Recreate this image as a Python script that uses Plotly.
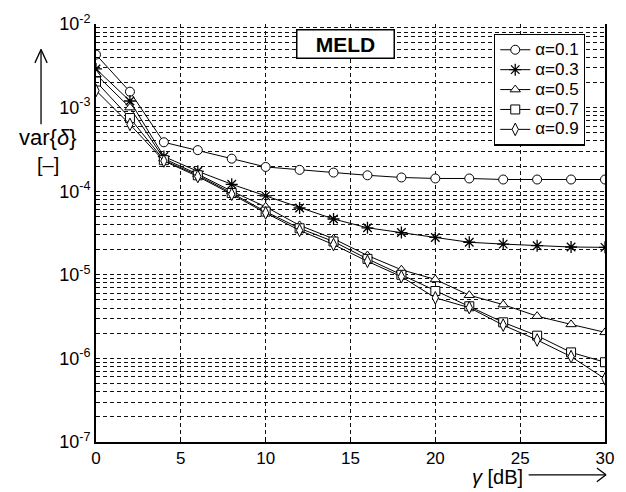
import plotly.graph_objects as go

# SNR axis (dB) and variance of the estimator for each forgetting factor alpha
gamma_db = [0, 2, 4, 6, 8, 10, 12, 14, 16, 18, 20, 22, 24, 26, 28, 30]

var_a01 = [4.3e-3, 1.55e-3, 3.85e-4, 3.1e-4, 2.45e-4, 1.95e-4, 1.8e-4, 1.67e-4,
           1.55e-4, 1.46e-4, 1.42e-4, 1.42e-4, 1.38e-4, 1.38e-4, 1.38e-4, 1.38e-4]
var_a03 = [2.9e-3, 1.2e-3, 2.6e-4, 1.73e-4, 1.21e-4, 8.8e-5, 6.3e-5, 4.65e-5,
           3.65e-5, 3.2e-5, 2.8e-5, 2.45e-5, 2.33e-5, 2.23e-5, 2.15e-5, 2.13e-5]
var_a05 = [2.5e-3, 1.0e-3, 2.45e-4, 1.6e-4, 1.0e-4, 6.5e-5, 3.9e-5, 2.7e-5,
           1.7e-5, 1.15e-5, 8.8e-6, 5.7e-6, 4.4e-6, 3.2e-6, 2.55e-6, 2.05e-6]
var_a07 = [2.05e-3, 7.5e-4, 2.35e-4, 1.55e-4, 9.5e-5, 5.7e-5, 3.6e-5, 2.5e-5,
           1.55e-5, 1.0e-5, 6.4e-6, 4.2e-6, 2.7e-6, 1.87e-6, 1.18e-6, 9.0e-7]
var_a09 = [1.6e-3, 6.3e-4, 2.3e-4, 1.5e-4, 9.2e-5, 5.5e-5, 3.4e-5, 2.3e-5,
           1.45e-5, 9.5e-6, 5.3e-6, 4.05e-6, 2.5e-6, 1.66e-6, 1.05e-6, 5.7e-7]

series_names = ["\u03b1=0.1", "\u03b1=0.3", "\u03b1=0.5", "\u03b1=0.7", "\u03b1=0.9"]
series_values = [var_a01, var_a03, var_a05, var_a07, var_a09]
series_symbols = ["circle", "asterisk-open", "triangle-up", "square", "diamond-tall"]

x_ticks = [0, 5, 10, 15, 20, 25, 30]
decades = [-7, -6, -5, -4, -3, -2]

# y ticks at every 1..9 x 10^n so that each one carries a dashed grid line,
# labels only on the decades
y_tickvals, y_ticktext = [], []
for e in decades:
    for k in range(1, 10):
        if e == -2 and k > 1:
            break
        y_tickvals.append(k * 10.0 ** e)
        y_ticktext.append(f"10<sup>{e}</sup>" if k == 1 else "")

FONT = "Liberation Sans, Arial, sans-serif"

fig = go.Figure()
for name, vals, sym in zip(series_names, series_values, series_symbols):
    is_star = sym == "asterisk-open"
    fig.add_trace(go.Scatter(
        x=gamma_db, y=vals, mode="lines+markers",
        # legend rows are spaced by the (smaller) legend font; the entry text is larger
        name=f'<span style="font-size:17px">{name}</span>',
        line=dict(color="black", width=1),
        marker=dict(symbol=sym, size=10 if is_star else 9,
                    color="black" if is_star else "white",
                    line=dict(color="black", width=1.3 if is_star else 1)),
    ))

grid_dash = "4px,3px"
fig.update_layout(
    width=626, height=492,
    margin=dict(l=96, r=17, t=21, b=50),
    paper_bgcolor="white", plot_bgcolor="white",
    font=dict(family=FONT, size=17, color="black"),
    showlegend=True,
    legend=dict(
        x=0.782, y=0.977, xanchor="left", yanchor="top",
        bgcolor="white", bordercolor="black", borderwidth=1.2,
        font=dict(family=FONT, size=13, color="black"),
        tracegroupgap=0, itemwidth=30,
    ),
    xaxis=dict(
        range=[0, 30], tickvals=x_ticks, ticks="inside", ticklen=4,
        tickcolor="black", showline=True, linecolor="black", linewidth=2,
        mirror=False, showgrid=True, gridcolor="#111", gridwidth=1,
        griddash=grid_dash, zeroline=False,
        tickfont=dict(family=FONT, size=17, color="black"),
    ),
    yaxis=dict(
        type="log", range=[-7, -2], tickvals=y_tickvals, ticktext=y_ticktext,
        ticks="inside", ticklen=3, tickcolor="black",
        showline=True, linecolor="black", linewidth=2, mirror=True,
        showgrid=True, gridcolor="#111", gridwidth=1, griddash=grid_dash,
        zeroline=False,
        tickfont=dict(family=FONT, size=18, color="black"),
    ),
)

# Method tag
fig.add_annotation(
    xref="paper", yref="paper", x=0.491, y=0.951, xanchor="center", yanchor="middle",
    text="<b>MELD</b>", showarrow=False, width=94, height=25,
    font=dict(family=FONT, size=21, color="black"),
    bgcolor="white", bordercolor="black", borderwidth=1.5, borderpad=1,
)

# y-axis label: upward arrow, quantity and unit
fig.add_annotation(
    xref="paper", yref="paper", x=-0.0945, y=0.729, xanchor="center", yanchor="middle",
    text="var{<i>\u03b4</i>}", showarrow=False,
    font=dict(family=FONT, size=22, color="black"),
)
fig.add_annotation(
    xref="paper", yref="paper", x=-0.0945, y=0.663, xanchor="center", yanchor="middle",
    text="[\u2013]", showarrow=False,
    font=dict(family=FONT, size=20, color="black"),
)

# x-axis label with rightward arrow
fig.add_annotation(
    xref="paper", yref="paper", x=0.842, y=-0.083, xanchor="right", yanchor="middle",
    text="<i>\u03b3</i> [dB]", showarrow=False,
    font=dict(family=FONT, size=20, color="black"),
)

arrow = dict(type="line", xref="paper", yref="paper", line=dict(color="black", width=1.3))
# vertical arrow
fig.add_shape(**arrow, x0=-0.108, y0=0.760, x1=-0.108, y1=0.939)
fig.add_shape(**arrow, x0=-0.120, y0=0.907, x1=-0.108, y1=0.939)
fig.add_shape(**arrow, x0=-0.096, y0=0.907, x1=-0.108, y1=0.939)
# horizontal arrow
fig.add_shape(**arrow, x0=0.850, y0=-0.0785, x1=1.002, y1=-0.0785)
fig.add_shape(**arrow, x0=0.984, y0=-0.062, x1=1.002, y1=-0.0785)
fig.add_shape(**arrow, x0=0.984, y0=-0.095, x1=1.002, y1=-0.0785)

fig.write_html("out.html")
